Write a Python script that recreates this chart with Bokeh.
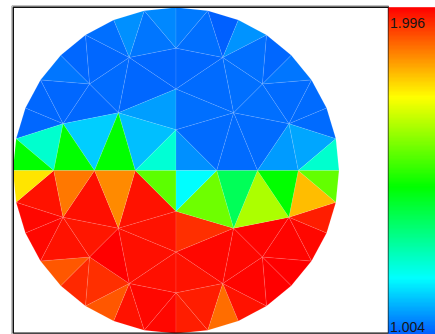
import numpy as np
from bokeh.plotting import figure
from bokeh.models import Range1d, LinearColorMapper, ColumnDataSource
from bokeh.core.properties import value
from bokeh.embed import file_html
from bokeh.resources import INLINE

# ---------------- mesh definition (rings of a unit disk) ----------------
ring_radius = [0.0, 0.25, 0.5, 0.75, 1.0]
ring_divs_per_quarter = [1, 1, 2, 4, 8]

# triangle template for one quarter: (ring, index) triplets
quarter_template = [
    # outer band (ring 3 - ring 4)
    ((4, 0), (4, 1), (3, 0)), ((4, 1), (3, 1), (3, 0)), ((4, 1), (4, 2), (3, 1)),
    ((4, 2), (4, 3), (3, 1)), ((4, 3), (3, 2), (3, 1)), ((4, 3), (4, 4), (3, 2)),
    ((4, 4), (4, 5), (3, 2)), ((4, 5), (3, 3), (3, 2)), ((4, 5), (4, 6), (3, 3)),
    ((4, 6), (4, 7), (3, 3)), ((4, 7), (3, 4), (3, 3)), ((4, 7), (4, 8), (3, 4)),
    # middle band (ring 2 - ring 3)
    ((3, 0), (3, 1), (2, 0)), ((3, 1), (2, 1), (2, 0)), ((3, 1), (3, 2), (2, 1)),
    ((3, 2), (3, 3), (2, 1)), ((3, 3), (2, 2), (2, 1)), ((3, 3), (3, 4), (2, 2)),
    # inner band (ring 1 - ring 2)
    ((2, 0), (2, 1), (1, 0)), ((2, 1), (1, 1), (1, 0)), ((2, 1), (2, 2), (1, 1)),
    # centre
    ((1, 0), (1, 1), (0, 0)),
]

# quarter signs (x, y): upper-left, upper-right, lower-left, lower-right
quarters = {"UL": (-1, 1), "UR": (1, 1), "LL": (-1, -1), "LR": (1, -1)}

# ---------------- cell values (one per triangle, template order) ----------------
values_UL = [1.050, 1.028, 1.055, 1.023, 1.012, 1.012, 1.028, 1.012, 1.015, 1.012, 1.227, 1.450,
             1.012, 1.012, 1.018, 1.012, 1.124, 1.450,
             1.070, 1.108, 1.450,
             1.219]
values_UR = [1.034, 1.023, 1.007, 1.061, 1.023, 1.012, 1.028, 1.018, 1.018, 1.018, 1.081, 1.227,
             1.012, 1.018, 1.023, 1.023, 1.018, 1.066,
             1.023, 1.018, 1.018,
             1.055]
values_LL = [1.985, 1.985, 1.974, 1.900, 1.942, 1.953, 1.900, 1.974, 1.985, 1.985, 1.974, 1.750,
             1.980, 1.980, 1.996, 1.969, 1.980, 1.868,
             1.974, 1.974, 1.846,
             1.547]
values_LR = [1.964, 1.964, 1.878, 1.974, 1.991, 1.996, 1.996, 1.991, 1.985, 1.964, 1.793, 1.558,
             1.974, 1.985, 1.985, 1.991, 1.632, 1.450,
             1.942, 1.568, 1.356,
             1.173]
quarter_values = {"UL": values_UL, "UR": values_UR, "LL": values_LL, "LR": values_LR}

v_min, v_max = 1.004, 1.996
tick_labels = ["1.996", "1.004"]

# colour map stops (fraction of range, rgb)
cmap_t = [0.0, 0.17, 0.45, 0.725, 1.0]
cmap_rgb = [(0, 96, 255), (0, 255, 255), (0, 255, 0), (255, 255, 0), (255, 0, 0)]

# ---------------- build ----------------
tt = np.linspace(0, 1, 256)
chan = [np.interp(tt, cmap_t, [c[i] for c in cmap_rgb]) for i in range(3)]
palette = ["#%02x%02x%02x" % (int(round(r)), int(round(g)), int(round(b)))
           for r, g, b in zip(*chan)]
mapper = LinearColorMapper(palette=palette, low=v_min, high=v_max)


def node_xy(ring, idx, sx, sy):
    r = ring_radius[ring]
    a = np.radians(idx * 90.0 / ring_divs_per_quarter[ring])
    return sx * r * np.sin(a), sy * r * np.cos(a)


xs, ys, vals = [], [], []
for q, (sx, sy) in quarters.items():
    for tri, v in zip(quarter_template, quarter_values[q]):
        pts = [node_xy(k, i, sx, sy) for k, i in tri]
        xs.append([p_[0] for p_ in pts])
        ys.append([p_[1] for p_ in pts])
        vals.append(v)

src = ColumnDataSource(dict(xs=xs, ys=ys, val=vals))

S = 163.0      # px per unit radius
CX, CY = 175.5, 170.0   # disk centre in px
W, H = 435, 334

p = figure(width=W, height=H, output_backend="svg", toolbar_location=None,
           x_range=Range1d(-CX / S, (W - CX) / S), y_range=Range1d((CY - H) / S, CY / S),
           min_border=0, x_axis_location=None, y_axis_location=None,
           outline_line_color=None, background_fill_color="white")
p.grid.visible = False

p.patches("xs", "ys", source=src, fill_color={"field": "val", "transform": mapper},
          line_color="white", line_alpha=0.16, line_width=0.6)

# plot frame
fx0, fx1 = (12.8 - CX) / S, (388 - CX) / S
fy0, fy1 = (CY - 332.6) / S, (CY - 6.8) / S
p.quad(left=[(11.4 - CX) / S], right=[fx1], bottom=[(CY - 333.8) / S], top=[(CY - 5.4) / S],
       fill_color=None, line_color="#9a9a9a", line_width=1)
p.quad(left=[fx0], right=[fx1], bottom=[fy0], top=[fy1],
       fill_color=None, line_color="#111111", line_width=1.4)

# colour bar
grad = np.linspace(v_min, v_max, 256).reshape(256, 1)
cb_bottom = (CY - H) / S
cb_top = (CY - 6.7) / S
p.image(image=[grad], x=fx1, y=cb_bottom, dw=(W - 388 + 5) / S, dh=cb_top - cb_bottom,
        color_mapper=mapper)

p.text(x=[(389.5 - CX) / S], y=[(CY - 22.7) / S], text=[tick_labels[0]],
       text_font=value("Liberation Sans"), text_font_size="14px",
       text_color="#151515", text_baseline="alphabetic", text_align="left")
p.text(x=[(389.5 - CX) / S], y=[(CY - 326.0) / S], text=[tick_labels[1]],
       text_font=value("Liberation Sans"), text_font_size="14px",
       text_color="#151515", text_baseline="alphabetic", text_align="left")

open("out.html", "w").write(file_html(p, INLINE))
